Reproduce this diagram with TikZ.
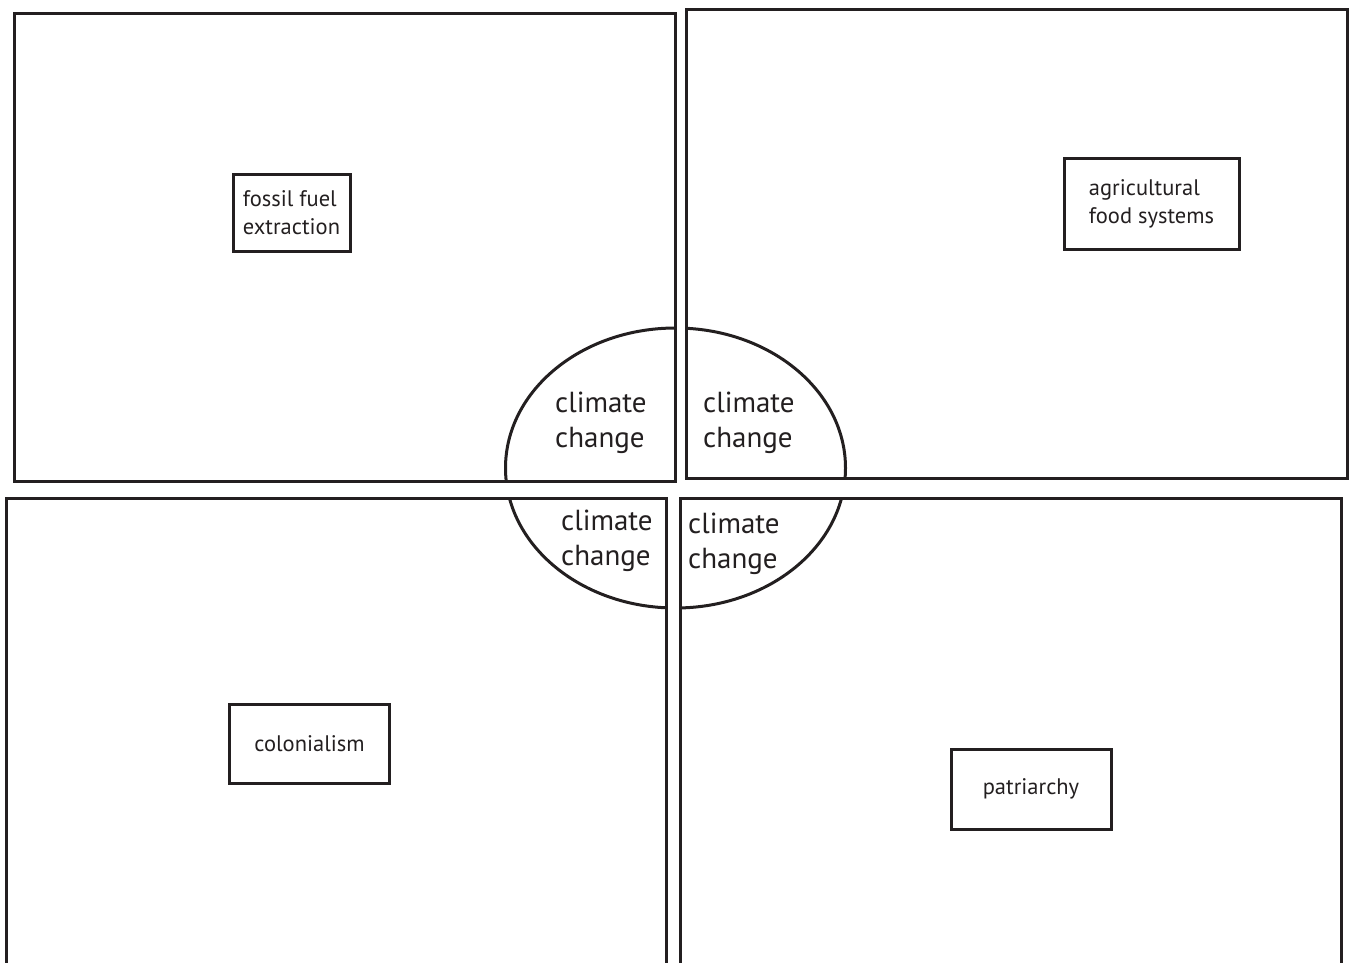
\documentclass[tikz,border=0pt]{standalone}
\usepackage{fontspec}
\setmainfont{PT Sans}
\definecolor{ink}{HTML}{231F20}
\begin{document}
\begin{tikzpicture}[x=1pt,y=-1pt,
  frame/.style={draw=ink, line width=3pt},
  circ/.style={draw=ink, line width=3pt},
  topicbox/.style={draw=ink, line width=3pt, text=ink, align=left, inner sep=0pt,
    font=\fontsize{22.5}{28}\selectfont},
  cclabel/.style={text=ink, align=left, inner sep=0pt, anchor=west,
    font=\fontsize{29}{35}\selectfont}]
\useasboundingbox (0,0) rectangle (1353,962);
\clip (0,0) rectangle (1353,962);
% quadrant frames
\draw[frame] (14.5,13.5) rectangle (675.5,481);
\draw[frame] (686,9.5) rectangle (1347,478.5);
\draw[frame] (6.5,975) -- (6.5,498.5) -- (666,498.5) -- (666,975);
\draw[frame] (680.5,975) -- (680.5,498.5) -- (1341,498.5) -- (1341,975);
% ellipse, split into four parts by the frames
\coordinate (ec) at (675.5,468);
\begin{scope}
  \clip (14.5,13.5) rectangle (675.5,481);
  \draw[circ] (ec) ellipse [x radius=170, y radius=140];
\end{scope}
\begin{scope}
  \clip (686,9.5) rectangle (1347,478.5);
  \draw[circ] (ec) ellipse [x radius=170, y radius=140];
\end{scope}
\begin{scope}
  \clip (6.5,498.5) rectangle (666,975);
  \draw[circ] (ec) ellipse [x radius=170, y radius=140];
\end{scope}
\begin{scope}
  \clip (680.5,498.5) rectangle (1341,975);
  \draw[circ] (ec) ellipse [x radius=170, y radius=140];
\end{scope}
% climate change labels
\node[cclabel] (cc1) at (555,423) {climate\\change};
\node[cclabel] (cc2) at (703,423) {climate\\change};
\node[cclabel] (cc3) at (561,541) {climate\\change};
\node[cclabel] (cc4) at (688,544) {climate\\change};
% topic boxes
\node[topicbox, minimum width=117, minimum height=77] (fossil) at (291.5,212.5) {fossil fuel\\extraction};
\node[topicbox, minimum width=175, minimum height=91] (agri) at (1151.5,203.5) {agricultural\\food systems};
\node[topicbox, minimum width=160, minimum height=79] (colon) at (309.5,744) {colonialism};
\node[topicbox, minimum width=160, minimum height=80] (patri) at (1031,789) {patriarchy};
\end{tikzpicture}
\end{document}
